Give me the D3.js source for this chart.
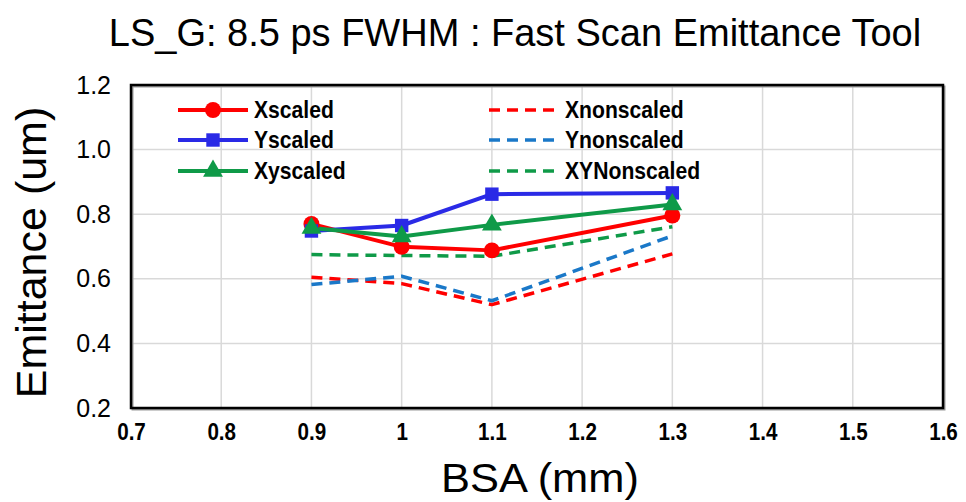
<!DOCTYPE html>
<html>
<head>
<meta charset="utf-8">
<script src="https://cdn.jsdelivr.net/npm/d3@7"></script>
<style>
  html, body { margin: 0; padding: 0; background: #fff; }
  svg { display: block; font-family: "Liberation Sans", Arial, sans-serif; }
</style>
</head>
<body>
<svg id="chart" width="966" height="502"></svg>
<script>
// BSA settings (mm)
const bsa = [0.9, 1.0, 1.1, 1.3];

// Emittance (um) for each series
const xScaled     = [0.770, 0.699, 0.688, 0.796];
const yScaled     = [0.748, 0.765, 0.862, 0.866];
const xyScaled    = [0.757, 0.731, 0.767, 0.830];
const xNonscaled  = [0.605, 0.585, 0.520, 0.677];
const yNonscaled  = [0.582, 0.608, 0.532, 0.733];
const xyNonscaled = [0.675, 0.672, 0.670, 0.761];

const xTicks = [0.7, 0.8, 0.9, 1.0, 1.1, 1.2, 1.3, 1.4, 1.5, 1.6];
const yTicks = [0.2, 0.4, 0.6, 0.8, 1.0, 1.2];

const seriesNames = ["Xscaled", "Yscaled", "Xyscaled", "Xnonscaled", "Ynonscaled", "XYNonscaled"];

const series = [
  { name: seriesNames[0], values: xScaled,     color: "#ff0000", dash: null, marker: "circle" },
  { name: seriesNames[1], values: yScaled,     color: "#2a2ae6", dash: null, marker: "square" },
  { name: seriesNames[2], values: xyScaled,    color: "#0f9a48", dash: null, marker: "triangle" },
  { name: seriesNames[3], values: xNonscaled,  color: "#ff0000", dash: "11,7", marker: null },
  { name: seriesNames[4], values: yNonscaled,  color: "#1a78c8", dash: "11,7", marker: null },
  { name: seriesNames[5], values: xyNonscaled, color: "#0f9a48", dash: "11,7", marker: null }
];

const svg = d3.select("#chart");
const plot = { left: 131, right: 943, top: 85, bottom: 408 };

const x = d3.scaleLinear().domain([0.7, 1.6]).range([plot.left, plot.right]);
const y = d3.scaleLinear().domain([0.2, 1.2]).range([plot.bottom, plot.top]);

// Title
svg.append("text")
  .attr("x", 515).attr("y", 46)
  .attr("text-anchor", "middle")
  .style("font-size", "38px")
  .text("LS_G: 8.5 ps FWHM : Fast Scan Emittance Tool");

// Gridlines
const grid = svg.append("g");
grid.selectAll("line.v").data(xTicks.slice(1, -1)).join("line")
  .attr("x1", d => x(d)).attr("x2", d => x(d))
  .attr("y1", plot.top).attr("y2", plot.bottom)
  .attr("stroke", "#d9d9d9").attr("stroke-width", 1.5);
grid.selectAll("line.h").data(yTicks.slice(1, -1)).join("line")
  .attr("x1", plot.left).attr("x2", plot.right)
  .attr("y1", d => y(d)).attr("y2", d => y(d))
  .attr("stroke", "#d9d9d9").attr("stroke-width", 1.5);

// Plot frame with a soft shadow
svg.append("rect")
  .attr("x", plot.left + 1.5).attr("y", plot.top + 1.5)
  .attr("width", plot.right - plot.left).attr("height", plot.bottom - plot.top)
  .attr("fill", "none").attr("stroke", "#9a9a9a").attr("stroke-width", 2);
svg.append("rect")
  .attr("x", plot.left).attr("y", plot.top)
  .attr("width", plot.right - plot.left).attr("height", plot.bottom - plot.top)
  .attr("fill", "none").attr("stroke", "#000").attr("stroke-width", 2.5);

// Axes (labels only; the frame draws the axis lines)
const xAxis = d3.axisBottom(x).tickValues(xTicks).tickSize(0).tickPadding(15)
  .tickFormat(d => d === 1 ? "1" : d3.format(".1f")(d));
svg.append("g").attr("transform", `translate(0,${plot.bottom})`).call(xAxis)
  .call(g => g.select(".domain").remove())
  .call(g => g.selectAll("text")
    .attr("transform", "scale(0.86,1)")
    .style("font-weight", "bold").style("font-size", "24px").attr("fill", "#000"));

const yAxis = d3.axisLeft(y).tickValues(yTicks).tickSize(0).tickPadding(20)
  .tickFormat(d3.format(".1f"));
svg.append("g").attr("transform", `translate(${plot.left},0)`).call(yAxis)
  .call(g => g.select(".domain").remove())
  .call(g => g.selectAll("text").style("font-size", "25px").attr("fill", "#000"));

// Axis titles
svg.append("text")
  .attr("transform", "translate(540,492) scale(1.06,1)")
  .attr("text-anchor", "middle")
  .style("font-size", "41px")
  .text("BSA (mm)");
svg.append("text")
  .attr("transform", `translate(46,${(plot.top + plot.bottom) / 2 + 6}) rotate(-90)`)
  .attr("text-anchor", "middle")
  .style("font-size", "43px")
  .text("Emittance (um)");

// Lines
const line = d3.line().x(d => x(d[0])).y(d => y(d[1]));
const lines = svg.append("g");
// dashed first, solid on top
const drawOrder = [3, 4, 5, 0, 1, 2];
drawOrder.forEach(i => {
  const s = series[i];
  lines.append("path")
    .datum(bsa.map((b, j) => [b, s.values[j]]))
    .attr("d", line)
    .attr("fill", "none")
    .attr("stroke", s.color)
    .attr("stroke-width", s.dash ? 3.5 : 4)
    .attr("stroke-dasharray", s.dash)
    .attr("stroke-linejoin", "round");
});

const symbolFor = {
  circle: d3.symbol().type(d3.symbolCircle).size(200),
  square: d3.symbol().type(d3.symbolSquare).size(180),
  triangle: d3.symbol().type(d3.symbolTriangle).size(170)
};

function drawMarkers(g, s) {
  g.selectAll(null).data(bsa.map((b, j) => [b, s.values[j]])).join("path")
    .attr("transform", d => `translate(${x(d[0])},${y(d[1])})`)
    .attr("d", symbolFor[s.marker])
    .attr("fill", s.color);
}
[0, 1, 2].forEach(i => drawMarkers(svg.append("g"), series[i]));

// Legend
const legend = svg.append("g");
const legendPos = [
  { lx: 178, ty: 110 }, { lx: 178, ty: 140 }, { lx: 178, ty: 171 },
  { lx: 489, ty: 110 }, { lx: 489, ty: 140 }, { lx: 489, ty: 171 }
];
series.forEach((s, i) => {
  const p = legendPos[i];
  const g = legend.append("g");
  g.append("line")
    .attr("x1", p.lx).attr("x2", p.lx + 70)
    .attr("y1", p.ty).attr("y2", p.ty)
    .attr("stroke", s.color)
    .attr("stroke-width", s.dash ? 3.5 : 4)
    .attr("stroke-dasharray", s.dash);
  if (s.marker) {
    g.append("path")
      .attr("transform", `translate(${p.lx + 35},${p.ty})`)
      .attr("d", symbolFor[s.marker])
      .attr("fill", s.color);
  }
  g.append("text")
    .attr("transform", `translate(${p.lx + 76},${p.ty + 8}) scale(0.92,1)`)
    .style("font-weight", "bold").style("font-size", "23px")
    .text(s.name);
});
</script>
</body>
</html>
